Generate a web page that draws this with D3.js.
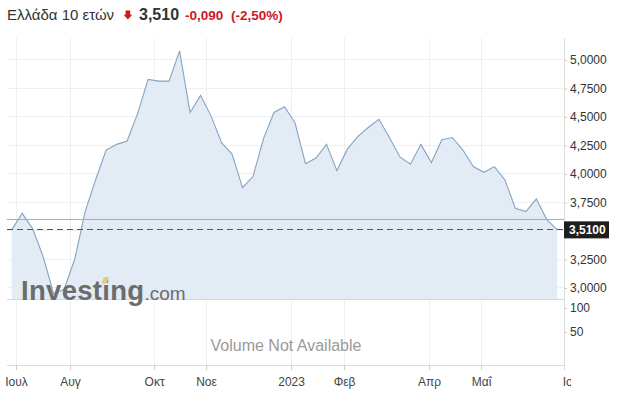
<!DOCTYPE html>
<html><head><meta charset="utf-8">
<script src="https://cdn.jsdelivr.net/npm/d3@7"></script>
<style>
html,body{margin:0;padding:0;background:#fff;}
svg{display:block;font-family:"Liberation Sans",Arial,sans-serif;}
</style>
</head><body>
<svg id="c" width="624" height="395"></svg>
<script>
// weekly yield values (Greece 10Y)
const values = [3.51,3.655,3.52,3.275,2.95,2.99,3.25,3.67,3.95,4.21,4.26,4.29,4.53,4.83,4.815,4.815,5.08,4.54,4.69,4.51,4.275,4.175,3.88,3.98,4.31,4.54,4.59,4.45,4.09,4.14,4.26,4.03,4.22,4.33,4.41,4.48,4.32,4.15,4.085,4.26,4.10,4.30,4.32,4.21,4.065,4.015,4.065,3.95,3.70,3.67,3.78,3.60,3.51];
const priceTicks = [3.0,3.25,3.75,4.0,4.25,4.5,4.75,5.0];
const gridTicks = [3.0,3.25,3.5,3.75,4.0,4.25,4.5,4.75,5.0];
const monthLabels = ["Ιουλ","Αυγ","Οκτ","Νοε","2023","Φεβ","Απρ","Μαΐ","Ιουν"];
const monthIdx = [0.41,5.56,13.57,18.52,26.63,31.68,39.78,44.74,53.55];
const volTicks = [100,50];
const lastPrice = 3.51;
const prevClose = 3.60;
const titleName = "Ελλάδα 10 ετών";
const titlePrice = "3,510";
const titleChange = "-0,090";
const titlePct = "(-2,50%)";

const svg = d3.select("#c");
const x = d3.scaleLinear().domain([0, values.length-1]).range([11.7, 557.3]);
const y = d3.scaleLinear().domain([2.9, 5.1]).range([299.4, 48.6]);
const yv = d3.scaleLinear().domain([0, 100]).range([356, 308]);
const L = 7, R = 564.5, TOP = 38, PB = 299.5, XB = 365.5;
const fmt = d => d3.format(".4f")(d).replace(".", ",");
const snap = v => Math.round(v - 0.5) + 0.5;

// grid
svg.append("g").selectAll("line").data(gridTicks).join("line")
  .attr("x1", L).attr("x2", R).attr("y1", d=>snap(y(d))).attr("y2", d=>snap(y(d)))
  .attr("stroke", "#efefef");
svg.append("g").selectAll("line").data(monthIdx.filter(d=>x(d) < R)).join("line")
  .attr("x1", d=>snap(x(d))).attr("x2", d=>snap(x(d))).attr("y1", TOP).attr("y2", XB)
  .attr("stroke", "#efefef");

// area + line
svg.append("path").datum(values)
  .attr("d", d3.area().x((d,i)=>x(i)).y0(PB).y1(d=>y(d)))
  .attr("fill", "#e3ebf4");
svg.append("path").datum(values)
  .attr("d", d3.line().x((d,i)=>x(i)).y(d=>y(d)))
  .attr("fill", "none").attr("stroke", "#84a4c2").attr("stroke-width", 1.1);

// previous close + last price lines
svg.append("line").attr("x1", L).attr("x2", R).attr("y1", snap(y(prevClose))).attr("y2", snap(y(prevClose)))
  .attr("stroke", "#ec8f9b").attr("stroke-width", 1);
svg.append("line").attr("x1", L).attr("x2", R).attr("y1", snap(y(lastPrice))).attr("y2", snap(y(lastPrice)))
  .attr("stroke", "#555").attr("stroke-width", 1.2).attr("stroke-dasharray", "6,4");

// panel divider
svg.append("line").attr("x1", L).attr("x2", R).attr("y1", PB).attr("y2", PB).attr("stroke", "#d8d8d8");

// logo
const logo = svg.append("text").attr("x", 21).attr("y", 300).attr("fill", "#6c6c6c");
logo.append("tspan").attr("font-size", 27.5).attr("font-weight", "bold").attr("letter-spacing", 0.3).text("Investing");
logo.append("tspan").attr("font-size", 19).attr("dx", 0).text(".com");
svg.append("polygon").attr("points", "101.5,283.5 104,277 109,277 106.5,283.5").attr("fill", "#e6c87e");

// volume text
svg.append("text").attr("x", 286).attr("y", 351).attr("text-anchor", "middle")
  .attr("font-size", 16).attr("fill", "#9a9a9a").text("Volume Not Available");

// right axis
svg.append("line").attr("x1", R).attr("x2", R).attr("y1", TOP).attr("y2", XB + 5).attr("stroke", "#dcdcdc");
const ay = svg.append("g").attr("transform", `translate(${R-0.5},0)`)
  .call(d3.axisRight(y).tickValues(priceTicks).tickFormat(fmt).tickSize(3).tickPadding(3));
ay.select(".domain").remove();
ay.selectAll("line").attr("stroke", "#ccc");
ay.selectAll("text").attr("font-size", 12).attr("fill", "#333").attr("font-family", "Liberation Sans, Arial, sans-serif");
const av = svg.append("g").attr("transform", `translate(${R-0.5},0)`)
  .call(d3.axisRight(yv).tickValues(volTicks).tickSize(3).tickPadding(3));
av.select(".domain").remove();
av.selectAll("line").attr("stroke", "#ccc");
av.selectAll("text").attr("font-size", 12).attr("fill", "#333").attr("font-family", "Liberation Sans, Arial, sans-serif");

// last price label
svg.append("rect").attr("x", 564).attr("y", y(lastPrice)-8.5).attr("width", 45).attr("height", 17).attr("fill", "#1e1e1e");
svg.append("text").attr("x", 569).attr("y", y(lastPrice)+4.3).attr("font-size", 12).attr("font-weight", "bold")
  .attr("fill", "#fff").text(fmt(lastPrice));

// x axis
svg.append("clipPath").attr("id", "xc").append("rect").attr("x", 0).attr("y", XB-2).attr("width", 571).attr("height", 40);
svg.append("line").attr("x1", L).attr("x2", R).attr("y1", XB).attr("y2", XB).attr("stroke", "#dcdcdc");
const ax = svg.append("g").attr("clip-path", "url(#xc)").append("g").attr("transform", `translate(0,${XB-0.5})`)
  .call(d3.axisBottom(x).tickValues(monthIdx).tickFormat((d,i)=>monthLabels[i]).tickSize(5).tickPadding(7));
ax.select(".domain").remove();
ax.selectAll("line").attr("stroke", "#ccc");
ax.selectAll("text").attr("font-size", 12).attr("fill", "#444").attr("font-family", "Liberation Sans, Arial, sans-serif");

// title
svg.append("text").attr("x", 7).attr("y", 20).attr("font-size", 15).attr("fill", "#333").text(titleName);
svg.append("rect").attr("x", 125.6).attr("y", 10.5).attr("width", 4.6).attr("height", 4.5).attr("fill", "#d0171f");
svg.append("polygon").attr("points", "123.6,14.8 132.2,14.8 127.9,19.6").attr("fill", "#d0171f");
svg.append("text").attr("x", 139).attr("y", 20).attr("font-size", 16).attr("font-weight", "bold").attr("fill", "#333").text(titlePrice);
svg.append("text").attr("x", 185).attr("y", 20).attr("font-size", 13.5).attr("font-weight", "bold").attr("fill", "#d0171f").text(titleChange);
svg.append("text").attr("x", 231).attr("y", 20).attr("font-size", 13.5).attr("font-weight", "bold").attr("fill", "#d0171f").text(titlePct);
</script>
</body></html>
